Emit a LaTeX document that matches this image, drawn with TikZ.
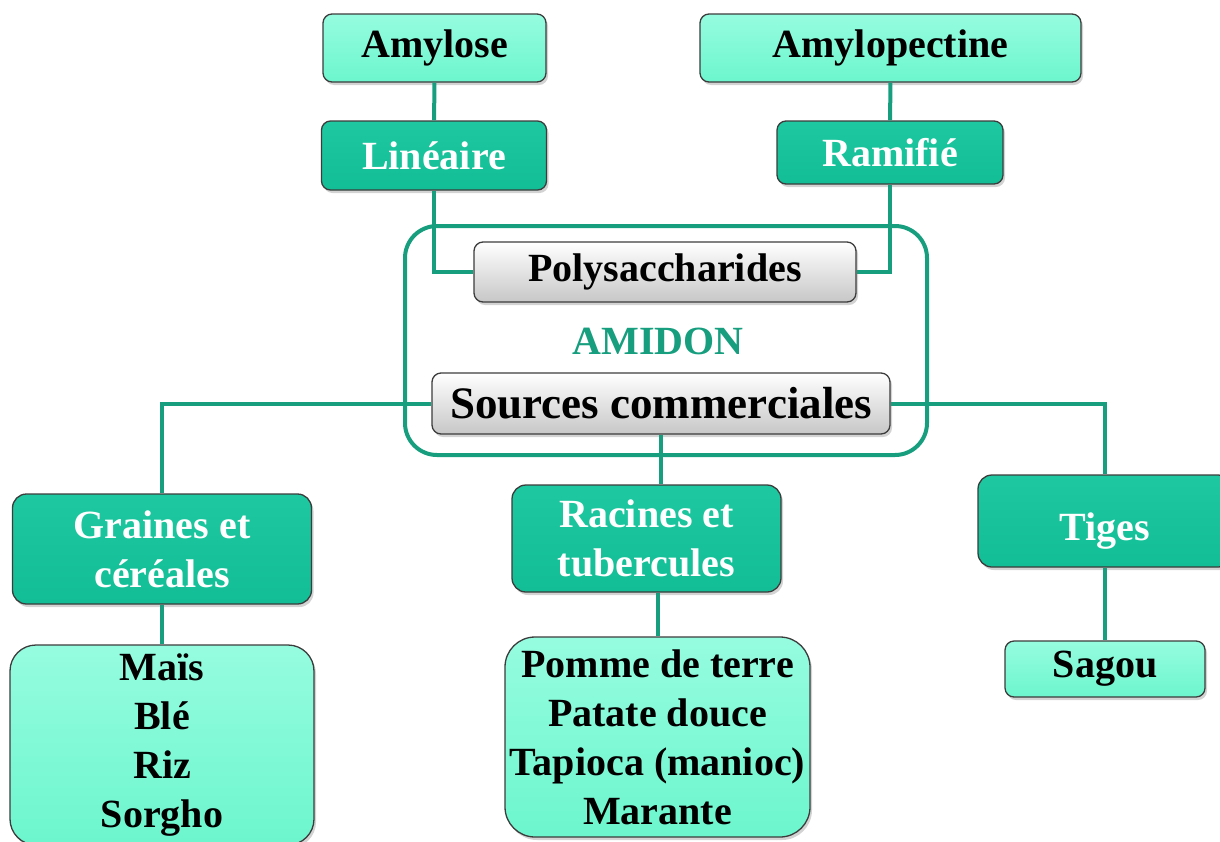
\documentclass[tikz,border=0pt]{standalone}
\usepackage{fontspec}
\setmainfont{Liberation Serif}
\usetikzlibrary{shadows}
\definecolor{lightbox}{RGB}{108,246,205}
\definecolor{lighttop}{RGB}{150,252,224}
\definecolor{darkbox}{RGB}{18,190,150}
\definecolor{darktop}{RGB}{30,200,160}
\definecolor{linegreen}{RGB}{22,158,126}
\definecolor{edgegray}{RGB}{60,60,60}
\tikzset{
  base/.style={draw=edgegray, line width=1.3pt, align=center, inner sep=0pt,
    font=\fontsize{40}{49}\selectfont\bfseries,
    drop shadow={opacity=0.35, shadow xshift=2pt, shadow yshift=-3pt}},
  lightnode/.style={base, top color=lighttop, bottom color=lightbox, text=black},
  darknode/.style={base, top color=darktop, bottom color=darkbox, text=white},
  graynode/.style={base, top color=white, bottom color=black!22, text=black},
  conn/.style={draw=linegreen, line width=4pt}
}
\begin{document}
\begin{tikzpicture}[x=1pt,y=-1pt]
\useasboundingbox (0,0) rectangle (1220,841);
% frame
\draw[linegreen, line width=4pt, rounded corners=32pt] (405,226) rectangle (927,455);
% nodes
\node[lightnode, rounded corners=9pt, minimum width=223pt, minimum height=68pt] (amylose) at (434.5,48) {Amylose};
\node[darknode, rounded corners=9pt, minimum width=225pt, minimum height=69pt] (lin) at (434,155.5) {Linéaire};
\node[lightnode, rounded corners=9pt, minimum width=381pt, minimum height=68pt] (amylo) at (890.5,48) {Amylopectine};
\node[darknode, rounded corners=9pt, minimum width=226pt, minimum height=63pt] (ram) at (890,152.5) {Ramifié};
\node[graynode, rounded corners=9pt, minimum width=382pt, minimum height=60pt] (poly) at (665,272) {Polysaccharides};
\node[text=linegreen, font=\fontsize{40}{46}\selectfont\bfseries] (amidon) at (658,341) {AMIDON};
\node[graynode, rounded corners=9pt, minimum width=458pt, minimum height=61pt, font=\fontsize{45}{50}\selectfont\bfseries] (src) at (661,403.5) {Sources commerciales};
\node[darknode, rounded corners=14pt, minimum width=299pt, minimum height=110pt] (grain) at (162,549) {Graines et\\céréales};
\node[darknode, rounded corners=14pt, minimum width=269pt, minimum height=107pt] (rac) at (646.5,538.5) {Racines et\\tubercules};
\node[darknode, rounded corners=14pt, minimum width=254pt, minimum height=92pt] (tiges) at (1105,521) {\raisebox{-19pt}[0pt][0pt]{Tiges}};
\node[lightnode, rounded corners=26pt, minimum width=304pt, minimum height=200pt] (mais) at (162,745) {Maïs\\Blé\\Riz\\Sorgho};
\node[lightnode, rounded corners=30pt, minimum width=305pt, minimum height=200pt] (pomme) at (657.5,737) {Pomme de terre\\Patate douce\\Tapioca (manioc)\\Marante};
\node[lightnode, rounded corners=9pt, minimum width=200pt, minimum height=56pt] (sagou) at (1105,669) {Sagou};
% connectors
\draw[conn] (amylose) -- (lin);
\draw[conn] (amylo) -- (ram);
\draw[conn] (lin.south) |- (poly.west);
\draw[conn] (ram.south) |- (poly.east);
\draw[conn] (src.west) -| (grain.north);
\draw[conn] (src.east) -| (tiges.north);
\draw[conn] (src.south) -- (src.south |- rac.north);
\draw[conn] (pomme.north |- rac.south) -- (pomme.north);
\draw[conn] (grain) -- (mais);
\draw[conn] (tiges) -- (sagou);
\end{tikzpicture}
\end{document}
